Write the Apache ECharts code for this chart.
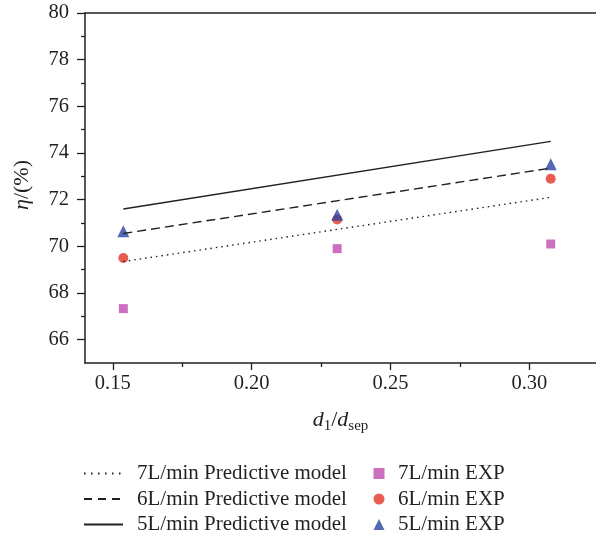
<!DOCTYPE html>
<html>
<head>
<meta charset="utf-8">
<script src="https://cdn.jsdelivr.net/npm/echarts@6/dist/echarts.min.js"></script>
<style>
html,body{margin:0;padding:0;background:#fff;}
#chart{width:596px;height:538px;}
</style>
</head>
<body>
<div id="chart"></div>
<script>
// Diameter ratio d1/dsep
const ratios = [0.1538, 0.2308, 0.3077];

// Predictive model lines (end points)
const modelRatios = [0.1538, 0.3077];
const model7 = [69.35, 72.1];
const model6 = [70.55, 73.35];
const model5 = [71.6, 74.5];

// Experimental efficiency (%)
const exp7 = [67.33, 69.9, 70.1];
const exp6 = [69.5, 71.15, 72.9];
const exp5 = [70.65, 71.35, 73.52];

const xMajor = [0.15, 0.20, 0.25, 0.30];
const xMinor = [0.175, 0.225, 0.275];
const yMajor = [66, 68, 70, 72, 74, 76, 78, 80];
const yMinor = [67, 69, 71, 73, 75, 77, 79];

const FONT = 'Liberation Serif';
const INK = '#231f20';
const TICK_FS = 20.5;
const LEG_FS = 21;

const pairs = (xs, ys) => xs.map((x, i) => [x, ys[i]]);

const chart = echarts.init(document.getElementById('chart'), null, {renderer: 'canvas'});

const xBase = {
  type: 'value', min: 0.14, max: 0.324, position: 'bottom',
  splitLine: {show: false}
};
const yBase = {
  type: 'value', min: 65, max: 80, position: 'left',
  splitLine: {show: false}
};

chart.setOption({
  animation: false,
  backgroundColor: '#fff',
  textStyle: {fontFamily: FONT, color: INK},
  grid: {left: 85, right: 0, top: 13, bottom: 175, containLabel: false},
  xAxis: [
    Object.assign({}, xBase, {
      name: '{i|d}{s|1}{n|/}{i|d}{s|sep}',
      nameLocation: 'middle', nameGap: 43,
      nameTextStyle: {
        rich: {
          i: {fontFamily: FONT, fontStyle: 'italic', fontSize: 22, color: INK, lineHeight: 28, verticalAlign: 'middle'},
          n: {fontFamily: FONT, fontSize: 22, color: INK, lineHeight: 28, verticalAlign: 'middle'},
          s: {fontFamily: FONT, fontSize: 15, color: INK, lineHeight: 28, verticalAlign: 'bottom'}
        }
      },
      axisLine: {show: true, onZero: false, lineStyle: {color: INK, width: 1.5}},
      axisTick: {show: true, inside: false, length: 7, customValues: xMajor, lineStyle: {color: INK, width: 1.3}},
      axisLabel: {customValues: xMajor, margin: 10, fontFamily: FONT, fontSize: TICK_FS, color: INK,
        formatter: v => v.toFixed(2)}
    }),
    Object.assign({}, xBase, {
      axisLine: {show: false},
      axisTick: {show: true, inside: false, length: 4, customValues: xMinor, lineStyle: {color: INK, width: 1.3}},
      axisLabel: {show: false}
    }),
    Object.assign({}, xBase, {
      position: 'top',
      axisLine: {show: true, onZero: false, lineStyle: {color: INK, width: 1.5}},
      axisTick: {show: false},
      axisLabel: {show: false}
    })
  ],
  yAxis: [
    Object.assign({}, yBase, {
      name: '{i|η}{n|/(%)}',
      nameLocation: 'middle', nameGap: 52, nameRotate: 90,
      nameTextStyle: {
        padding: [0, 0, 0, 6],
        rich: {
          i: {fontFamily: FONT, fontStyle: 'italic', fontSize: 22, color: INK},
          n: {fontFamily: FONT, fontSize: 22, color: INK}
        }
      },
      axisLine: {show: true, onZero: false, lineStyle: {color: INK, width: 1.5}},
      axisTick: {show: true, inside: false, length: 8, customValues: yMajor, lineStyle: {color: INK, width: 1.3}},
      axisLabel: {customValues: yMajor, margin: 16, fontFamily: FONT, fontSize: TICK_FS, color: INK}
    }),
    Object.assign({}, yBase, {
      axisLine: {show: false},
      axisTick: {show: true, inside: false, length: 4, customValues: yMinor, lineStyle: {color: INK, width: 1.3}},
      axisLabel: {show: false}
    })
  ],
  legend: [
    {
      orient: 'vertical', left: 83, top: 463, padding: 0,
      itemWidth: 39, itemHeight: 14, itemGap: 4.5,
      itemStyle: {color: 'transparent', borderWidth: 0},
      data: [
        {name: '7L/min Predictive model', lineStyle: {type: [1.5, 5.5]}},
        {name: '6L/min Predictive model', lineStyle: {type: [8, 6]}},
        {name: '5L/min Predictive model'}
      ],
      textStyle: {fontFamily: FONT, fontSize: LEG_FS, lineHeight: 21, color: INK, padding: [0, 0, 0, 9]}
    },
    {
      orient: 'vertical', left: 373.5, top: 463, padding: 0,
      itemWidth: 11, itemHeight: 11, itemGap: 4.5,
      data: ['7L/min EXP', '6L/min EXP', '5L/min EXP'],
      textStyle: {fontFamily: FONT, fontSize: LEG_FS, lineHeight: 21, color: INK, padding: [0, 0, 0, 8.5]}
    }
  ],
  series: [
    {
      name: '7L/min Predictive model', type: 'line', symbol: 'none',
      data: pairs(modelRatios, model7),
      lineStyle: {color: INK, width: 1.4, type: [1.5, 4]}, itemStyle: {color: INK}
    },
    {
      name: '6L/min Predictive model', type: 'line', symbol: 'none',
      data: pairs(modelRatios, model6),
      lineStyle: {color: INK, width: 1.4, type: [9, 5]}, itemStyle: {color: INK}
    },
    {
      name: '5L/min Predictive model', type: 'line', symbol: 'none',
      data: pairs(modelRatios, model5),
      lineStyle: {color: INK, width: 1.4, type: 'solid'}, itemStyle: {color: INK}
    },
    {
      name: '7L/min EXP', type: 'scatter', symbol: 'rect', symbolSize: 9,
      data: pairs(ratios, exp7), itemStyle: {color: '#c04bb1'}
    },
    {
      name: '6L/min EXP', type: 'scatter', symbol: 'circle', symbolSize: 10,
      data: pairs(ratios, exp6), itemStyle: {color: '#e23427'}
    },
    {
      name: '5L/min EXP', type: 'scatter', symbol: 'triangle', symbolSize: 12,
      data: pairs(ratios, exp5), itemStyle: {color: '#2c44a0'}
    }
  ]
});
</script>
</body>
</html>
